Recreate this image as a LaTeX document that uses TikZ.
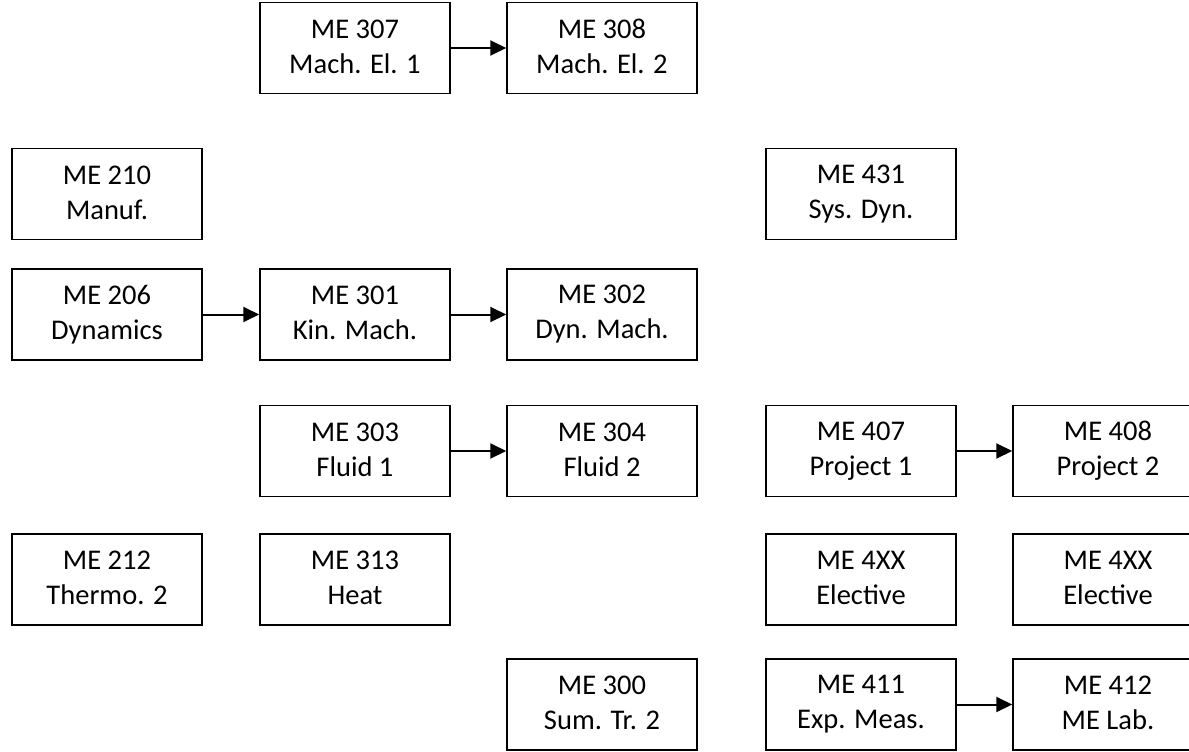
\documentclass[tikz,border=0pt]{standalone}
\usepackage{fontspec}
\setmainfont{Carlito}
\usetikzlibrary{arrows.meta}

\begin{document}
\begin{tikzpicture}[x=1pt,y=-1pt,
  course/.style={draw,line width=1.5pt,minimum width=190pt,minimum height=91pt,
    align=center,inner sep=0pt,font=\fontsize{28.5}{35}\selectfont,
    execute at begin node={\rule{0pt}{24pt}},
    execute at end node={\rule[-3pt]{0pt}{3pt}}},
  pre/.style={line width=2pt,-{Triangle[length=16pt,width=15pt]}}]
\useasboundingbox (0,0) rectangle (1189,752);
\clip (0,0) rectangle (1189,752);

\node[course] (m307) at (355,48) {ME 307\\Mach. El. 1};
\node[course] (m308) at (602,48) {ME 308\\Mach. El. 2};

\node[course] (m210) at (107,194) {ME 210\\Manuf.};
\node[course] (m431) at (861,194) {ME 431\\Sys. Dyn.};

\node[course] (m206) at (107,314.5) {ME 206\\Dynamics};
\node[course] (m301) at (355,314.5) {ME 301\\Kin. Mach.};
\node[course] (m302) at (602,314.5) {ME 302\\Dyn. Mach.};

\node[course] (m303) at (355,451) {ME 303\\Fluid 1};
\node[course] (m304) at (602,451) {ME 304\\Fluid 2};
\node[course] (m407) at (861,451) {ME 407\\Project 1};
\node[course] (m408) at (1108,451) {ME 408\\Project 2};

\node[course] (m212) at (107,579.5) {ME 212\\Thermo. 2};
\node[course] (m313) at (355,579.5) {ME 313\\Heat};
\node[course] (m4xxa) at (861,579.5) {ME 4XX\\Elective};
\node[course] (m4xxb) at (1108,579.5) {ME 4XX\\Elective};

\node[course] (m300) at (602,704.5) {ME 300\\Sum. Tr. 2};
\node[course] (m411) at (861,704.5) {ME 411\\Exp. Meas.};
\node[course] (m412) at (1108,704.5) {ME 412\\ME Lab.};

\draw[pre] (m307)--(m308);
\draw[pre] (m206)--(m301);
\draw[pre] (m301)--(m302);
\draw[pre] (m303)--(m304);
\draw[pre] (m407)--(m408);
\draw[pre] (m411)--(m412);
\end{tikzpicture}
\end{document}
